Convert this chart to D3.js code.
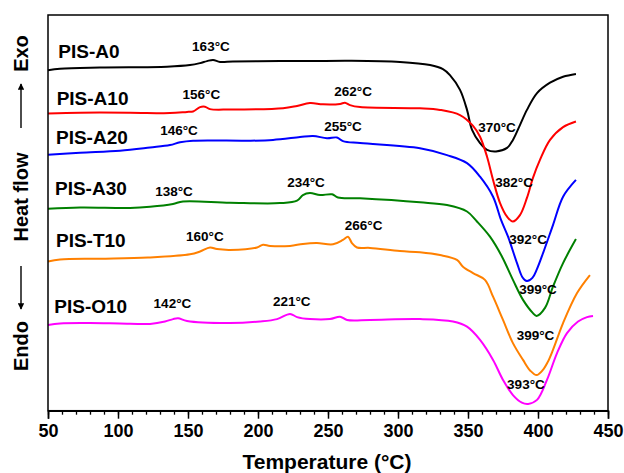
<!DOCTYPE html>
<html>
<head>
<meta charset="utf-8">
<script src="https://cdn.jsdelivr.net/npm/d3@7"></script>
<style>
  html, body { margin: 0; padding: 0; background: #fff; }
  svg { display: block; }
  text { font-family: "Liberation Sans", Arial, sans-serif; font-weight: bold; fill: #000; }
</style>
</head>
<body>
<svg id="chart" width="624" height="473"></svg>
<script>
// DSC heating curves, temperature (°C) vs heat flow (arbitrary units, offset per sample)
const seriesNames = ["PIS-A0", "PIS-A10", "PIS-A20", "PIS-A30", "PIS-T10", "PIS-O10"];
const seriesColors = ["#000000", "#ff0000", "#0000ff", "#008000", "#ff8000", "#ff00ff"];

const tempA0 = [50, 58.6, 87.1, 135, 151.4, 158.6, 163.6, 167.9, 172.9, 182.1, 215.7, 230, 265.7, 301.4, 322.9, 332.1, 337.1, 344.3, 349.3, 352.9, 358.6, 363.6, 370, 377.9, 382.1, 387.1, 392.1, 399.3, 408.6, 417.9, 427.1];
const flowA0 = [8.51, 8.55, 8.58, 8.60, 8.64, 8.69, 8.74, 8.77, 8.72, 8.73, 8.74, 8.74, 8.75, 8.72, 8.64, 8.54, 8.39, 8.02, 7.52, 7.02, 6.69, 6.52, 6.48, 6.57, 6.77, 7.14, 7.52, 7.94, 8.20, 8.35, 8.42];

const tempA10 = [50, 72.9, 108.6, 137.1, 149.3, 153.6, 158.6, 162.1, 165.7, 180, 217.9, 227.9, 237.1, 246.4, 258.6, 262.1, 265.7, 272.9, 315.7, 330, 344.3, 353.6, 358.6, 363.6, 367.9, 372.9, 377.9, 382, 387.1, 392.1, 396.4, 401.4, 408.6, 417.9, 427.1];
const flowA10 = [7.43, 7.45, 7.45, 7.44, 7.47, 7.48, 7.59, 7.60, 7.54, 7.53, 7.56, 7.62, 7.69, 7.66, 7.67, 7.70, 7.64, 7.59, 7.56, 7.52, 7.39, 7.12, 6.85, 6.35, 5.77, 5.19, 4.85, 4.73, 4.89, 5.32, 5.82, 6.27, 6.77, 7.09, 7.23];

const tempA20 = [50, 72.9, 101.4, 122.9, 137.1, 144.3, 153.6, 194.3, 210.7, 230, 239.3, 249.3, 256.4, 260.7, 272.9, 315.7, 335, 349.3, 358.6, 367.9, 373.6, 378.6, 385, 389, 392, 396, 399, 403.6, 410.7, 417.9, 427.1];
const flowA20 = [6.40, 6.45, 6.50, 6.58, 6.64, 6.71, 6.75, 6.75, 6.77, 6.84, 6.87, 6.81, 6.83, 6.74, 6.69, 6.56, 6.39, 6.19, 5.85, 5.35, 4.77, 4.35, 3.69, 3.33, 3.24, 3.32, 3.52, 3.94, 4.64, 5.35, 5.77];

const tempA30 = [50, 72.9, 108.6, 122.9, 139.3, 146.4, 180, 215.7, 227.9, 232.1, 237.1, 244.3, 252.9, 257.1, 272.9, 315.7, 335, 349.3, 356.4, 365.7, 374.3, 382.1, 389.3, 396.4, 399, 405, 410.7, 417.9, 427.1];
const flowA30 = [5.05, 5.08, 5.07, 5.10, 5.17, 5.23, 5.20, 5.19, 5.25, 5.39, 5.44, 5.39, 5.41, 5.33, 5.31, 5.21, 5.14, 4.98, 4.73, 4.35, 3.85, 3.27, 2.77, 2.44, 2.37, 2.57, 3.10, 3.69, 4.29];

const tempT10 = [50, 58.6, 87.1, 121.4, 151.4, 158.6, 165.7, 170.7, 180, 199.3, 203.6, 208.6, 222.9, 232.1, 242.1, 253.6, 260.7, 264.3, 267.1, 270.7, 280, 301.4, 315.7, 330, 342.1, 346.4, 353.6, 362.1, 367.9, 375, 382.1, 389.3, 394.5, 399, 403.5, 407, 410.7, 417.9, 427.9, 437.1];
const flowT10 = [3.73, 3.78, 3.80, 3.83, 3.91, 3.98, 4.08, 4.04, 4.02, 4.08, 4.15, 4.12, 4.12, 4.17, 4.19, 4.16, 4.27, 4.35, 4.19, 4.08, 4.07, 3.99, 3.96, 3.89, 3.77, 3.60, 3.44, 3.27, 2.85, 2.27, 1.69, 1.27, 1.00, 0.89, 1.02, 1.22, 1.52, 2.19, 2.94, 3.39];

const tempO10 = [50, 58.6, 80, 101.4, 122.9, 133.6, 139.3, 142.9, 149.3, 180, 201.4, 213.6, 222.9, 227.9, 237.1, 251.4, 258.6, 263.6, 280, 315.7, 339.3, 349.3, 358.6, 367.9, 375, 382.1, 388.5, 393, 399.3, 406.4, 413.6, 420.7, 428.6, 435, 439.3];
const flowO10 = [2.14, 2.18, 2.19, 2.18, 2.17, 2.23, 2.29, 2.31, 2.24, 2.19, 2.23, 2.29, 2.42, 2.34, 2.29, 2.29, 2.35, 2.27, 2.27, 2.29, 2.23, 2.10, 1.77, 1.27, 0.77, 0.39, 0.20, 0.17, 0.27, 0.77, 1.44, 1.94, 2.23, 2.34, 2.37];

const seriesTemps = [tempA0, tempA10, tempA20, tempA30, tempT10, tempO10];
const seriesFlows = [flowA0, flowA10, flowA20, flowA30, flowT10, flowO10];

// Transition temperatures written on the curves, and the series each belongs to
const markTemps = [163, 156, 262, 146, 255, 138, 234, 160, 266, 142, 221, 370, 382, 392, 399, 399, 393];
const markSeries = [0, 1, 1, 2, 2, 3, 3, 4, 4, 5, 5, 0, 1, 2, 3, 4, 5];

// Axis ticks
const xMajorTicks = [50, 100, 150, 200, 250, 300, 350, 400, 450];
const xMinorTicks = d3.range(50, 451, 10);

// ---- layout ----
const plot = { left: 48, right: 608, top: 15, bottom: 410.7 };

const x = d3.scaleLinear().domain([50, 450]).range([plot.left, plot.right]);
const y = d3.scaleLinear().domain([0, 9.8925]).range([plot.bottom, plot.top]);

// Anchor (temperature, heat flow) of each series name, baseline-left
const nameAnchor = [[57.4, 8.81], [56.2, 7.64], [55.7, 6.67], [55, 5.39], [55.7, 4.10], [54.5, 2.45]];
// Anchor (temperature, heat flow) of each temperature note, baseline-centre
const markAnchor = [[166.4, 8.99], [159.6, 7.79], [267.9, 7.88], [143.6, 6.89], [260.7, 6.99], [140, 5.37], [234.3, 5.60],
  [162.1, 4.24], [275.4, 4.52], [138.9, 2.56], [224.1, 2.62], [370.7, 6.98], [382.9, 5.60], [392.9, 4.16], [400, 2.92], [398.2, 1.77], [391.4, 0.54]];

const svg = d3.select("#chart");

// curves
const line = d3.line()
  .x(d => x(d[0]))
  .y(d => y(d[1]))
  .curve(d3.curveCatmullRom.alpha(0.5));

const curves = seriesNames.map((name, i) => ({
  name,
  color: seriesColors[i],
  points: seriesTemps[i].map((t, j) => [t, seriesFlows[i][j]])
}));

svg.append("g")
  .selectAll("path")
  .data(curves)
  .join("path")
  .attr("fill", "none")
  .attr("stroke", d => d.color)
  .attr("stroke-width", 2)
  .attr("stroke-linejoin", "round")
  .attr("d", d => line(d.points));

// frame
svg.append("rect")
  .attr("x", plot.left)
  .attr("y", plot.top)
  .attr("width", plot.right - plot.left)
  .attr("height", plot.bottom - plot.top)
  .attr("fill", "none")
  .attr("stroke", "#000")
  .attr("stroke-width", 1.5);

// bottom axis: minor then major ticks
const minorAxis = d3.axisBottom(x).tickValues(xMinorTicks).tickSize(4).tickFormat("");
svg.append("g")
  .attr("transform", `translate(0,${plot.bottom})`)
  .call(minorAxis)
  .call(g => g.select(".domain").remove())
  .call(g => g.selectAll("line").attr("stroke-width", 1.3));

const majorAxis = d3.axisBottom(x).tickValues(xMajorTicks).tickSize(8).tickPadding(6).tickFormat(d3.format("d"));
svg.append("g")
  .attr("transform", `translate(0,${plot.bottom})`)
  .call(majorAxis)
  .call(g => g.select(".domain").attr("stroke-width", 1.5))
  .call(g => g.selectAll("line").attr("stroke-width", 1.5))
  .call(g => g.selectAll("text")
    .attr("font-family", "'Liberation Sans', Arial, sans-serif")
    .attr("font-weight", "bold")
    .attr("font-size", 18)
    .attr("fill", "#000"));

// x axis title
svg.append("text")
  .attr("x", (plot.left + plot.right) / 2 - 1)
  .attr("y", 469)
  .attr("text-anchor", "middle")
  .attr("font-size", 21)
  .text("Temperature (°C)");

// y axis title: Endo ← Heat flow → Exo (reading upwards)
const yTitle = svg.append("g").attr("transform", "translate(28,0)");
const yWords = [["Exo", 53.5], ["Heat flow", 197], ["Endo", 346]];
yTitle.selectAll("text")
  .data(yWords)
  .join("text")
  .attr("transform", d => `translate(0,${d[1]}) rotate(-90)`)
  .attr("text-anchor", "middle")
  .attr("font-size", 20)
  .text(d => d[0]);

const defs = svg.append("defs");
defs.append("marker")
  .attr("id", "head")
  .attr("viewBox", "0 0 10 10")
  .attr("refX", 9).attr("refY", 5)
  .attr("markerWidth", 5.5).attr("markerHeight", 4.5)
  .attr("markerUnits", "strokeWidth")
  .attr("orient", "auto")
  .append("path")
  .attr("d", "M0,0 L10,5 L0,10 Z")
  .attr("fill", "#000");

const arrows = [[128, 84], [266, 309]];
svg.append("g")
  .selectAll("line")
  .data(arrows)
  .join("line")
  .attr("x1", 21).attr("x2", 21)
  .attr("y1", d => d[0]).attr("y2", d => d[1])
  .attr("stroke", "#000")
  .attr("stroke-width", 1.4)
  .attr("marker-end", "url(#head)");

// series names
svg.append("g")
  .selectAll("text")
  .data(seriesNames)
  .join("text")
  .attr("x", (d, i) => x(nameAnchor[i][0]))
  .attr("y", (d, i) => y(nameAnchor[i][1]))
  .attr("font-size", 19)
  .text(d => d);

// transition temperatures
svg.append("g")
  .selectAll("text")
  .data(markTemps)
  .join("text")
  .attr("x", (d, i) => x(markAnchor[i][0]))
  .attr("y", (d, i) => y(markAnchor[i][1]))
  .attr("text-anchor", "middle")
  .attr("font-size", 13.5)
  .text(d => `${d}°C`);
</script>
</body>
</html>
